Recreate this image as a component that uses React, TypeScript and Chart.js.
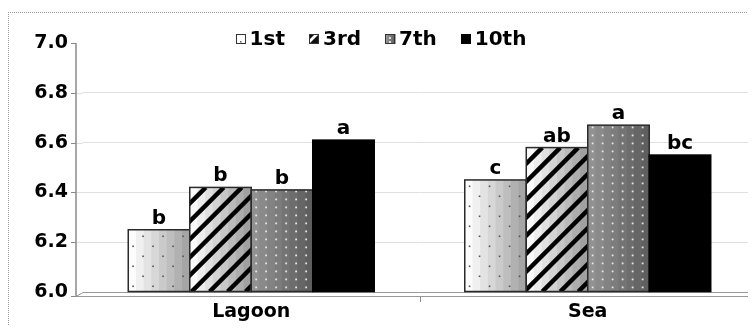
import React, { useEffect, useRef } from "react";
import { Chart, registerables } from "chart.js";

Chart.register(...registerables);

const categories = ["Lagoon", "Sea"];
const seriesNames = ["1st", "3rd", "7th", "10th"];
const values1st = [6.25, 6.45];
const values3rd = [6.42, 6.58];
const values7th = [6.41, 6.67];
const values10th = [6.61, 6.55];
const letters1st = ["b", "c"];
const letters3rd = ["b", "ab"];
const letters7th = ["b", "a"];
const letters10th = ["a", "bc"];
const yMin = 6.0;
const yMax = 7.0;
const yStep = 0.2;

const seriesValues = [values1st, values3rd, values7th, values10th];
const seriesLetters = [letters1st, letters3rd, letters7th, letters10th];

const FONT = '"DejaVu Sans", "Liberation Sans", Arial, sans-serif';
const DEPTH = 7;

function bands(ctx: CanvasRenderingContext2D, x: number, y: number, w: number, h: number, from: number, to: number, n: number) {
  const bw = w / n;
  for (let k = 0; k < n; k++) {
    const g = Math.round(from + (to - from) * (k / (n - 1)));
    ctx.fillStyle = `rgb(${g},${g},${g})`;
    ctx.fillRect(x + k * bw, y, bw + 0.6, h);
  }
}

function paintBar(ctx: CanvasRenderingContext2D, kind: number, x: number, y: number, w: number, h: number) {
  ctx.save();
  ctx.beginPath();
  ctx.rect(x, y, w, h);
  ctx.clip();
  const bottom = y + h;
  if (kind === 0) {
    bands(ctx, x, y, w, h, 252, 165, 8);
    ctx.fillStyle = "#555";
    let row = 0;
    for (let yy = bottom - 6; yy > y; yy -= 10, row++) {
      const off = row % 2 ? 10 : 0;
      for (let xx = x + 4 + off; xx < x + w; xx += 20) {
        ctx.fillRect(xx, yy, 1.6, 1.6);
      }
    }
  } else if (kind === 1) {
    bands(ctx, x, y, w, h, 250, 160, 8);
    ctx.strokeStyle = "#000";
    ctx.lineWidth = 4.5;
    for (let t = -h - 20; t < w + 20; t += 18) {
      ctx.beginPath();
      ctx.moveTo(x + t, bottom);
      ctx.lineTo(x + t + h, bottom - h);
      ctx.stroke();
    }
  } else if (kind === 2) {
    bands(ctx, x, y, w, h, 145, 95, 8);
    ctx.fillStyle = "#e6e6e6";
    for (let yy = bottom - 5; yy > y; yy -= 8) {
      for (let xx = x + 4; xx < x + w; xx += 10) {
        ctx.fillRect(xx, yy, 1.8, 1.8);
      }
    }
  } else {
    ctx.fillStyle = "#000";
    ctx.fillRect(x, y, w, h);
  }
  ctx.restore();
  ctx.save();
  ctx.strokeStyle = kind === 3 ? "#000" : "#2a2a2a";
  ctx.lineWidth = 1.5;
  ctx.strokeRect(x, y, w, h);
  ctx.restore();
}

function paintIcon(ctx: CanvasRenderingContext2D, kind: number, x: number, y: number, s: number) {
  ctx.save();
  if (kind === 0) {
    ctx.fillStyle = "#fff";
    ctx.fillRect(x, y, s, s);
    ctx.fillStyle = "#555";
    ctx.fillRect(x + s / 2 - 1, y + s - 3, 1.5, 1.5);
  } else if (kind === 1) {
    ctx.fillStyle = "#fff";
    ctx.fillRect(x, y, s, s);
    ctx.fillStyle = "#111";
    ctx.beginPath();
    ctx.moveTo(x, y + s);
    ctx.lineTo(x + s, y);
    ctx.lineTo(x + s, y + s);
    ctx.closePath();
    ctx.fill();
    ctx.beginPath();
    ctx.moveTo(x, y + s * 0.6);
    ctx.lineTo(x + s * 0.6, y);
    ctx.lineTo(x, y);
    ctx.closePath();
    ctx.fill();
  } else if (kind === 2) {
    bands(ctx, x, y, s, s, 150, 100, 4);
    ctx.fillStyle = "#ddd";
    ctx.fillRect(x + s / 2 - 1, y + 3, 2, 2);
    ctx.fillRect(x + s / 2 - 1, y + 7, 2, 2);
  } else {
    ctx.fillStyle = "#000";
    ctx.fillRect(x, y, s, s);
  }
  ctx.strokeStyle = kind === 3 ? "#000" : "#333";
  ctx.lineWidth = 1;
  ctx.strokeRect(x + 0.5, y + 0.5, s - 1, s - 1);
  ctx.restore();
}

const decorPlugin = {
  id: "decor",
  beforeDatasetsDraw(chart: any) {
    const { ctx, chartArea, scales } = chart;
    const ys = scales.y;
    const xs = scales.x;
    const axisX = chartArea.left - DEPTH;
    ctx.save();
    ctx.strokeStyle = "#e0e0e0";
    ctx.lineWidth = 1;
    for (let v = yMin + yStep; v < yMax - 1e-6; v += yStep) {
      const py = Math.round(ys.getPixelForValue(v)) + 0.5;
      ctx.beginPath();
      ctx.moveTo(axisX, py);
      ctx.lineTo(chartArea.left, py);
      ctx.stroke();
    }
    ctx.strokeStyle = "#999";
    ctx.beginPath();
    ctx.moveTo(axisX, chartArea.bottom + 4.5);
    ctx.lineTo(chartArea.left, chartArea.bottom + 0.5);
    ctx.lineTo(chartArea.right, chartArea.bottom + 0.5);
    ctx.moveTo(axisX, chartArea.bottom + 4.5);
    ctx.lineTo(chartArea.right, chartArea.bottom + 4.5);
    ctx.stroke();
    ctx.strokeStyle = "#888";
    for (let i = 0; i < categories.length - 1; i++) {
      const px = Math.round((xs.getPixelForValue(i) + xs.getPixelForValue(i + 1)) / 2) + 0.5;
      ctx.beginPath();
      ctx.moveTo(px, chartArea.bottom + 4.5);
      ctx.lineTo(px, chartArea.bottom + 10);
      ctx.stroke();
    }
    ctx.strokeStyle = "#888";
    ctx.lineWidth = 1.5;
    ctx.beginPath();
    ctx.moveTo(axisX, chartArea.top);
    ctx.lineTo(axisX, chartArea.bottom + 4.5);
    ctx.stroke();
    ctx.lineWidth = 1;
    for (let v = yMin; v <= yMax + 1e-6; v += yStep) {
      const py = Math.round(ys.getPixelForValue(v)) + 0.5 + (Math.abs(v - yMin) < 1e-6 ? 4 : 0);
      ctx.beginPath();
      ctx.moveTo(axisX - 5, py);
      ctx.lineTo(axisX, py);
      ctx.stroke();
    }
    ctx.restore();
  },
  afterDatasetsDraw(chart: any) {
    const ctx: CanvasRenderingContext2D = chart.ctx;
    const area = chart.chartArea;
    chart.data.datasets.forEach((_ds: any, i: number) => {
      const meta = chart.getDatasetMeta(i);
      meta.data.forEach((el: any, j: number) => {
        const p = el.getProps(["x", "y", "base", "width"], true);
        const left = p.x - p.width / 2;
        const top = Math.min(p.y, p.base);
        const bottom = Math.min(Math.max(p.y, p.base), area.bottom);
        const h = bottom - top;
        paintBar(ctx, i, left, top, p.width, h);
        ctx.save();
        ctx.fillStyle = "#000";
        ctx.font = `bold 20px ${FONT}`;
        ctx.textAlign = "center";
        ctx.textBaseline = "alphabetic";
        ctx.fillText(seriesLetters[i][j], p.x, top - 6);
        ctx.restore();
      });
    });
  },
  afterDraw(chart: any) {
    const ctx: CanvasRenderingContext2D = chart.ctx;
    ctx.save();
    ctx.font = `bold 20px ${FONT}`;
    const icon = 10;
    const gapIcon = 4;
    const gapItem = 24;
    const widths = seriesNames.map((n) => ctx.measureText(n).width);
    const total = widths.reduce((a, b) => a + b + icon + gapIcon, 0) + gapItem * (seriesNames.length - 1);
    const cx = 372;
    const cy = 26;
    let x = cx - total / 2;
    seriesNames.forEach((n, i) => {
      paintIcon(ctx, i, Math.round(x), Math.round(cy - icon / 2), icon);
      ctx.fillStyle = "#000";
      ctx.textAlign = "left";
      ctx.textBaseline = "middle";
      ctx.fillText(n, x + icon + gapIcon, cy + 1);
      x += icon + gapIcon + widths[i] + gapItem;
    });
    ctx.restore();
  },
};

export default function App() {
  const ref = useRef<HTMLCanvasElement | null>(null);

  useEffect(() => {
    if (!ref.current) return;
    const chart = new Chart(ref.current, {
      type: "bar",
      data: {
        labels: categories,
        datasets: seriesNames.map((name, i) => ({
          label: name,
          data: seriesValues[i],
          base: yMin,
          backgroundColor: "rgba(0,0,0,0)",
          borderWidth: 0,
          barPercentage: 1.0,
          categoryPercentage: 0.731,
        })),
      },
      options: {
        responsive: false,
        animation: false,
        devicePixelRatio: 1,
        layout: { padding: { left: 0, right: 23, top: 30, bottom: 0 } },
        plugins: {
          legend: { display: false },
          tooltip: { enabled: false },
          title: { display: false },
        },
        scales: {
          x: {
            afterFit: (scale: any) => {
              scale.height = 51;
            },
            grid: {
              offset: true,
              drawOnChartArea: false,
              tickLength: 6,
              tickColor: "rgba(0,0,0,0)",
            },
            border: { display: false },
            ticks: {
              color: "#000",
              font: { family: FONT, size: 19, weight: "bold" },
              padding: 3,
            },
          },
          y: {
            min: yMin,
            max: yMax,
            afterFit: (scale: any) => {
              scale.width = 74;
            },
            grid: {
              color: (c: any) => {
                const v = c.tick ? c.tick.value : 0;
                if (Math.abs(v - yMin) < 1e-6 || Math.abs(v - yMax) < 1e-6) return "rgba(0,0,0,0)";
                return "#e0e0e0";
              },
              tickColor: "rgba(0,0,0,0)",
              tickLength: 12,
            },
            border: { display: false },
            ticks: {
              stepSize: yStep,
              color: "#000",
              padding: 3,
              font: { family: FONT, size: 19, weight: "bold" },
              callback: (v: any) => Number(v).toFixed(1),
            },
          },
        },
      },
      plugins: [decorPlugin],
    });
    return () => chart.destroy();
  }, []);

  return (
    <div style={{ width: 748, height: 314, overflow: "hidden", paddingTop: 4, boxSizing: "content-box" }}>
      <div
        style={{
          borderTop: "1px dotted #999",
          borderLeft: "1px dotted #999",
          width: 800,
          height: 400,
        }}
      >
        <canvas ref={ref} width={770} height={330} style={{ display: "block", width: 770, height: 330 }} />
      </div>
    </div>
  );
}
